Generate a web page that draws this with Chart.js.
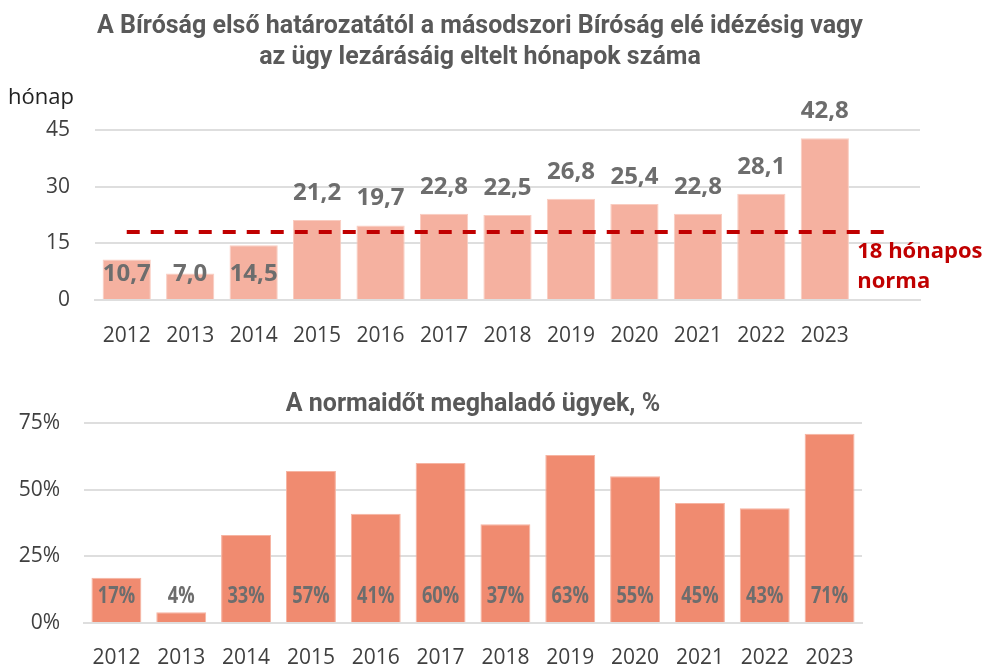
<!DOCTYPE html>
<html>
<head>
<meta charset="utf-8">
<script src="https://cdn.jsdelivr.net/npm/chart.js@4.4.1/dist/chart.umd.min.js"></script>
<style>
  html, body { margin: 0; padding: 0; background: #fff; }
  body { width: 992px; height: 665px; position: relative; overflow: hidden; }
  .box { position: absolute; left: 0; width: 992px; }
  #topBox { top: 0; height: 360px; }
  #bottomBox { top: 380px; height: 285px; }
</style>
</head>
<body>
<div class="box" id="topBox"><canvas id="monthsChart"></canvas></div>
<div class="box" id="bottomBox"><canvas id="overChart"></canvas></div>
<script>
// adatok
const years = ['2012', '2013', '2014', '2015', '2016', '2017', '2018', '2019', '2020', '2021', '2022', '2023'];
const months = [10.7, 7.0, 14.5, 21.2, 19.7, 22.8, 22.5, 26.8, 25.4, 22.8, 28.1, 42.8];
const normMonths = 18;
const overPct = [17, 4, 33, 57, 41, 60, 37, 63, 55, 45, 43, 71];
const monthTicks = [0, 15, 30, 45];
const pctTicks = [0, 25, 50, 75];

const titleTop = ['A Bíróság első határozatától a másodszori Bíróság elé idézésig vagy', 'az ügy lezárásáig eltelt hónapok száma'];
const titleBottom = 'A normaidőt meghaladó ügyek, %';

const gridColor = '#dedede';
const tickColor = '#404040';
const labelGray = '#6d6d6d';
const normRed = '#C00000';

// egy üres kategória a végén, hogy a norma vonal és a felirat kiférjen
const topLabels = years.concat(['']);
const normLine = topLabels.map(() => normMonths);

// felső grafikon feliratai
const monthsLabelPlugin = {
    id: 'monthsLabels',
    afterDatasetsDraw(chart) {
        const ctx = chart.ctx;
        const meta = chart.getDatasetMeta(1);
        const base = chart.chartArea.bottom;
        ctx.save();
        ctx.font = 'bold 24px "Open Sans"';
        ctx.fillStyle = labelGray;
        ctx.textAlign = 'center';
        ctx.textBaseline = 'middle';
        meta.data.forEach((bar, i) => {
            const v = months[i];
            if (v == null) return;
            const txt = v.toFixed(1).replace('.', ',');
            // norma alatti értékek az oszlop aljára kerülnek
            const y = v < normMonths ? base - 26 : bar.y - 27;
            ctx.fillText(txt, bar.x, y);
        });
        // mértékegység
        ctx.font = '22px "Open Sans"';
        ctx.fillStyle = '#222';
        ctx.textAlign = 'left';
        ctx.fillText('hónap', 8, 98);
        // norma felirat
        const xs = chart.scales.x;
        const ys = chart.scales.y;
        const lx = xs.getPixelForValue(12) - 31;
        const ly = ys.getPixelForValue(normMonths);
        ctx.font = 'bold 22px "Open Sans"';
        ctx.fillStyle = normRed;
        ctx.fillText('18 hónapos', lx, ly + 20);
        ctx.fillText('norma', lx, ly + 50);
        ctx.restore();
    }
};

// alsó grafikon feliratai (keskenyített betű)
const pctLabelPlugin = {
    id: 'pctLabels',
    afterDatasetsDraw(chart) {
        const ctx = chart.ctx;
        const meta = chart.getDatasetMeta(0);
        const base = chart.chartArea.bottom;
        ctx.save();
        ctx.font = 'bold 24px "Open Sans"';
        ctx.fillStyle = labelGray;
        ctx.textAlign = 'center';
        ctx.textBaseline = 'middle';
        meta.data.forEach((bar, i) => {
            ctx.save();
            ctx.translate(bar.x, base - 27);
            ctx.scale(0.76, 1);
            ctx.fillText(overPct[i] + '%', 0, 0);
            ctx.restore();
        });
        ctx.restore();
    }
};

function initMonthsChart() {
    const ctx = document.getElementById('monthsChart').getContext('2d');
    return new Chart(ctx, {
        data: {
            labels: topLabels,
            datasets: [
                {
                    type: 'line',
                    data: normLine,
                    borderColor: normRed,
                    borderWidth: 4,
                    borderDash: [13, 11],
                    pointRadius: 0,
                    fill: false,
                    order: 0
                },
                {
                    type: 'bar',
                    data: months,
                    backgroundColor: '#F5B1A0',
                    borderColor: '#F9CDC1',
                    borderWidth: 1,
                    barPercentage: 0.76,
                    categoryPercentage: 1,
                    order: 1
                }
            ]
        },
        options: {
            responsive: true,
            maintainAspectRatio: false,
            animation: false,
            layout: { padding: { left: 40, right: 72, top: 0, bottom: 0 } },
            scales: {
                x: {
                    grid: { display: false, drawTicks: false },
                    border: { display: true, color: gridColor, width: 2 },
                    ticks: { color: tickColor, font: { family: 'Open Sans', size: 21 }, padding: 23, maxRotation: 0, autoSkip: false },
                    afterFit(s) { s.height = 60; }
                },
                y: {
                    min: 0,
                    max: 45,
                    afterBuildTicks(s) { s.ticks = monthTicks.map(v => ({ value: v })); },
                    grid: { color: gridColor, lineWidth: 2, drawTicks: false },
                    border: { display: false },
                    ticks: { color: tickColor, font: { family: 'Open Sans', size: 21 }, padding: 25 },
                    afterFit(s) { s.width = 55; }
                }
            },
            plugins: {
                legend: { display: false },
                tooltip: { enabled: false },
                title: {
                    display: true,
                    text: titleTop,
                    color: '#595959',
                    font: { family: 'Roboto', size: 25, weight: 'bold', lineHeight: 1.24 },
                    padding: { top: 11, bottom: 57 }
                }
            }
        },
        plugins: [monthsLabelPlugin]
    });
}

function initOverChart() {
    const ctx = document.getElementById('overChart').getContext('2d');
    return new Chart(ctx, {
        type: 'bar',
        data: {
            labels: years,
            datasets: [{
                data: overPct,
                backgroundColor: '#F08B70',
                borderColor: '#F6B4A2',
                borderWidth: 1,
                barPercentage: 0.77,
                categoryPercentage: 1
            }]
        },
        options: {
            responsive: true,
            maintainAspectRatio: false,
            animation: false,
            layout: { padding: { left: 10, right: 130, top: 0, bottom: 0 } },
            scales: {
                x: {
                    grid: { display: false, drawTicks: false },
                    border: { display: true, color: gridColor, width: 2 },
                    ticks: { color: tickColor, font: { family: 'Open Sans', size: 21 }, padding: 22, maxRotation: 0, autoSkip: false },
                    afterFit(s) { s.height = 42; }
                },
                y: {
                    min: 0,
                    max: 75,
                    afterBuildTicks(s) { s.ticks = pctTicks.map(v => ({ value: v })); },
                    grid: { color: gridColor, lineWidth: 2, drawTicks: false },
                    border: { display: false },
                    ticks: { color: tickColor, font: { family: 'Open Sans', size: 21 }, padding: 24, callback: v => v + '%' },
                    afterFit(s) { s.width = 74; }
                }
            },
            plugins: {
                legend: { display: false },
                tooltip: { enabled: false },
                title: {
                    display: true,
                    text: titleBottom,
                    fullSize: false,
                    color: '#595959',
                    font: { family: 'Roboto', size: 25, weight: 'bold', lineHeight: 1.2 },
                    padding: { top: 10, bottom: 3 }
                }
            }
        },
        plugins: [pctLabelPlugin]
    });
}

document.addEventListener('DOMContentLoaded', () => {
    initMonthsChart();
    initOverChart();
});
</script>
</body>
</html>
